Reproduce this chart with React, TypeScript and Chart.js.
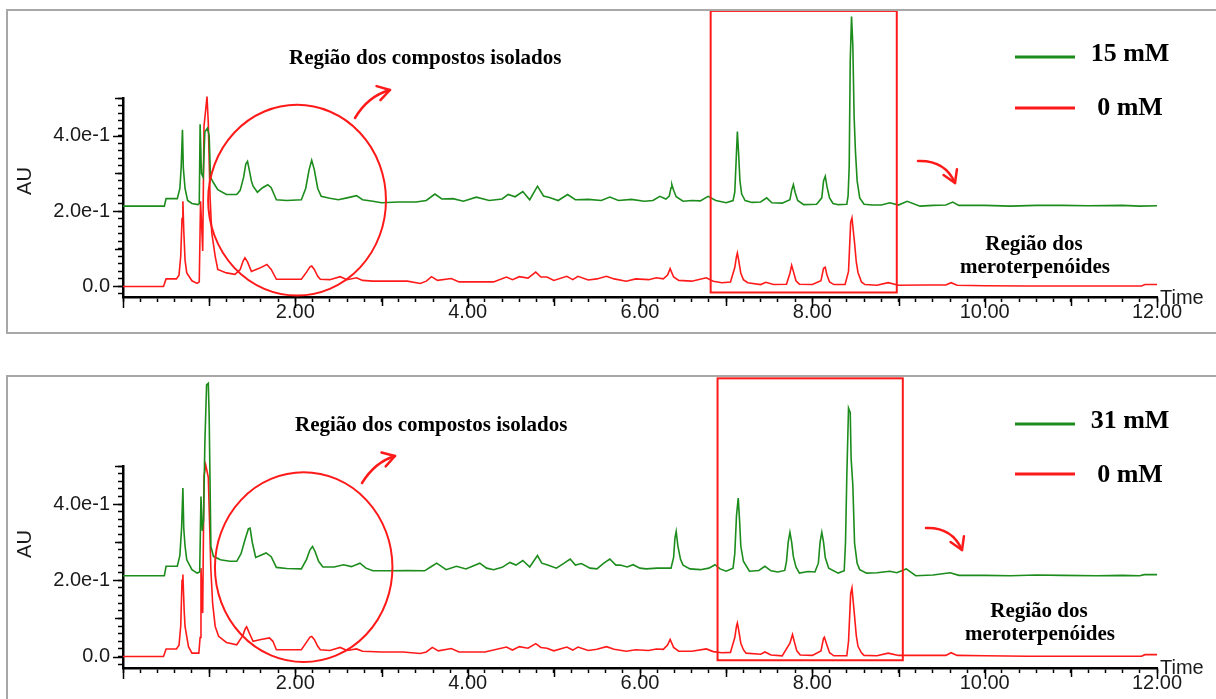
import React, { useEffect, useRef } from 'react';
import { Chart, registerables } from 'chart.js';

Chart.register(...registerables);

type P = [number, number];

// ---------- DATA (time in min, absorbance in AU) ----------
const topGreen15: P[] = [
  [0, 0.213], [0.48, 0.213], [0.5, 0.233], [0.63, 0.233], [0.66, 0.26], [0.675, 0.315], [0.69, 0.416], [0.7, 0.315],
  [0.72, 0.26], [0.75, 0.228], [0.8, 0.22], [0.87, 0.217], [0.885, 0.22], [0.895, 0.43], [0.91, 0.3], [0.93, 0.29],
  [0.95, 0.41], [0.98, 0.42], [1.0, 0.4], [1.015, 0.29], [1.05, 0.275], [1.1, 0.257], [1.2, 0.244], [1.32, 0.244],
  [1.36, 0.255], [1.4, 0.29], [1.425, 0.325], [1.445, 0.332], [1.465, 0.31], [1.49, 0.28], [1.51, 0.266], [1.56, 0.25],
  [1.62, 0.262], [1.68, 0.27], [1.72, 0.262], [1.78, 0.23], [1.9, 0.228], [2.07, 0.23], [2.12, 0.26], [2.16, 0.31],
  [2.19, 0.335], [2.22, 0.31], [2.26, 0.26], [2.3, 0.239], [2.4, 0.234],
  [2.5, 0.23], [2.6, 0.235], [2.71, 0.241], [2.78, 0.23], [2.9, 0.226], [3.0, 0.222], [3.2, 0.224], [3.4, 0.224],
  [3.52, 0.228], [3.62, 0.245], [3.7, 0.232], [3.83, 0.233], [3.95, 0.226], [4.1, 0.237], [4.25, 0.228], [4.4, 0.232],
  [4.47, 0.244], [4.55, 0.238], [4.64, 0.252], [4.72, 0.23], [4.81, 0.266], [4.88, 0.24], [4.95, 0.236], [5.05, 0.228],
  [5.16, 0.244], [5.25, 0.23], [5.4, 0.231], [5.55, 0.228], [5.65, 0.237], [5.75, 0.228], [5.9, 0.231], [6.05, 0.226],
  [6.15, 0.228], [6.23, 0.239], [6.3, 0.232], [6.34, 0.24], [6.36, 0.262], [6.37, 0.27], [6.39, 0.255], [6.42, 0.238],
  [6.5, 0.226], [6.6, 0.228],
  [6.7, 0.227], [6.79, 0.239], [6.88, 0.228], [7.0, 0.222], [7.08, 0.228], [7.1, 0.25], [7.115, 0.33], [7.13, 0.411],
  [7.145, 0.35], [7.16, 0.28], [7.18, 0.245], [7.22, 0.228], [7.3, 0.223], [7.4, 0.224], [7.47, 0.235], [7.53, 0.222],
  [7.65, 0.221], [7.74, 0.23], [7.76, 0.255], [7.78, 0.27], [7.8, 0.25], [7.83, 0.228], [7.9, 0.217], [8.05, 0.218],
  [8.11, 0.235], [8.13, 0.28], [8.15, 0.292], [8.17, 0.265], [8.2, 0.235], [8.24, 0.22], [8.3, 0.217], [8.4, 0.218],
  [8.415, 0.24], [8.428, 0.32], [8.44, 0.6], [8.455, 0.716], [8.47, 0.64], [8.485, 0.45], [8.5, 0.36], [8.52, 0.28],
  [8.55, 0.235], [8.6, 0.218], [8.7, 0.216], [8.8, 0.216], [8.9, 0.222],
  [9.0, 0.216], [9.1, 0.226], [9.25, 0.213], [9.4, 0.215], [9.55, 0.216], [9.63, 0.224], [9.7, 0.215], [10.0, 0.215],
  [10.3, 0.213], [10.6, 0.215], [10.9, 0.215], [11.2, 0.214], [11.6, 0.215], [11.8, 0.213], [12.0, 0.214],
];

const topRed0: P[] = [
  [0, 0.0], [0.47, 0.0], [0.5, 0.02], [0.62, 0.02], [0.65, 0.03], [0.67, 0.08], [0.685, 0.18], [0.695, 0.226],
  [0.705, 0.15], [0.72, 0.07], [0.74, 0.036], [0.8, 0.015], [0.86, 0.008], [0.885, 0.012], [0.9, 0.226], [0.915, 0.15],
  [0.925, 0.094], [0.94, 0.425], [0.96, 0.469], [0.975, 0.504], [0.99, 0.434], [1.01, 0.239], [1.03, 0.143], [1.07, 0.08],
  [1.1, 0.045], [1.2, 0.036], [1.3, 0.032], [1.36, 0.045], [1.395, 0.068], [1.415, 0.076], [1.445, 0.065], [1.49, 0.04],
  [1.58, 0.048], [1.67, 0.058], [1.72, 0.045], [1.78, 0.019], [1.9, 0.019], [2.07, 0.019], [2.13, 0.038], [2.17, 0.052],
  [2.19, 0.054], [2.22, 0.045], [2.26, 0.027], [2.29, 0.019], [2.4, 0.018], [2.52, 0.026], [2.6, 0.018], [2.71, 0.023],
  [2.78, 0.016], [2.9, 0.014], [3.1, 0.014],
  [3.3, 0.014], [3.45, 0.008], [3.52, 0.014], [3.58, 0.026], [3.65, 0.016], [3.81, 0.021], [3.9, 0.012], [4.1, 0.012],
  [4.3, 0.012], [4.45, 0.025], [4.52, 0.018], [4.6, 0.026], [4.7, 0.022], [4.79, 0.038], [4.85, 0.025], [4.92, 0.025],
  [5.0, 0.016], [5.15, 0.027], [5.22, 0.018], [5.28, 0.027], [5.4, 0.017], [5.5, 0.02], [5.61, 0.027], [5.7, 0.02],
  [5.84, 0.014], [5.95, 0.02], [6.1, 0.018], [6.19, 0.023], [6.27, 0.02], [6.32, 0.03], [6.35, 0.047], [6.39, 0.025],
  [6.45, 0.016], [6.6, 0.014], [6.77, 0.023], [6.85, 0.014], [6.95, 0.01], [7.05, 0.012], [7.1, 0.05], [7.12, 0.08],
  [7.13, 0.089], [7.145, 0.07], [7.17, 0.035], [7.2, 0.018], [7.25, 0.01], [7.4, 0.005], [7.46, 0.011], [7.55, 0.005],
  [7.7, 0.006], [7.74, 0.035], [7.76, 0.056], [7.78, 0.04], [7.81, 0.015], [7.85, 0.006], [8.0, 0.005], [8.1, 0.015],
  [8.13, 0.048], [8.15, 0.051], [8.17, 0.03], [8.2, 0.012], [8.25, 0.005], [8.38, 0.005], [8.42, 0.04], [8.445, 0.17],
  [8.46, 0.182], [8.49, 0.116], [8.51, 0.065], [8.53, 0.037], [8.57, 0.012], [8.61, 0.005],
  [8.75, 0.003], [8.88, 0.01], [9.0, 0.003], [9.3, 0.004], [9.55, 0.004], [9.61, 0.01], [9.68, 0.003], [10.0, 0.002],
  [10.5, 0.001], [11.0, 0.001], [11.5, 0.001], [11.82, 0.001], [11.86, 0.005], [12.0, 0.005],
];

const bottomGreen31: P[] = [
  [0, 0.212], [0.48, 0.212], [0.5, 0.237], [0.63, 0.237], [0.66, 0.265], [0.68, 0.337], [0.695, 0.442], [0.705, 0.337],
  [0.72, 0.29], [0.74, 0.254], [0.8, 0.228], [0.86, 0.219], [0.89, 0.222], [0.905, 0.42], [0.92, 0.33], [0.935, 0.36],
  [0.95, 0.56], [0.97, 0.713], [0.99, 0.717], [1.0, 0.63], [1.02, 0.289], [1.05, 0.263], [1.13, 0.254], [1.24, 0.25],
  [1.32, 0.25], [1.37, 0.27], [1.42, 0.31], [1.455, 0.335], [1.475, 0.337], [1.5, 0.3], [1.54, 0.26], [1.6, 0.266],
  [1.66, 0.272], [1.72, 0.262],
  [1.78, 0.234], [1.9, 0.231], [2.07, 0.23], [2.13, 0.255], [2.17, 0.28], [2.2, 0.289], [2.23, 0.275], [2.27, 0.25],
  [2.32, 0.235], [2.45, 0.235],
  [2.56, 0.241], [2.65, 0.236], [2.75, 0.245], [2.82, 0.232], [2.9, 0.225], [3.1, 0.225], [3.3, 0.226], [3.5, 0.225],
  [3.57, 0.235], [3.64, 0.245], [3.75, 0.228], [3.87, 0.237], [3.98, 0.23], [4.14, 0.245], [4.22, 0.232], [4.3, 0.228],
  [4.4, 0.234], [4.49, 0.247], [4.56, 0.24], [4.64, 0.252], [4.72, 0.235], [4.81, 0.265], [4.86, 0.245], [4.92, 0.241],
  [5.03, 0.232], [5.12, 0.245], [5.19, 0.256], [5.25, 0.24], [5.32, 0.244], [5.42, 0.232], [5.5, 0.23], [5.58, 0.245],
  [5.65, 0.256], [5.72, 0.24], [5.77, 0.24], [5.85, 0.235], [5.92, 0.241], [6.0, 0.232], [6.07, 0.23], [6.2, 0.232],
  [6.36, 0.232], [6.39, 0.26], [6.405, 0.31], [6.42, 0.328], [6.44, 0.29], [6.47, 0.255], [6.5, 0.24], [6.58, 0.23],
  [6.7, 0.228], [6.8, 0.232],
  [6.87, 0.241], [6.93, 0.23], [7.0, 0.224], [7.08, 0.232], [7.1, 0.27], [7.12, 0.37], [7.14, 0.416], [7.155, 0.36],
  [7.17, 0.29], [7.2, 0.25], [7.27, 0.224], [7.38, 0.226], [7.45, 0.237], [7.52, 0.225], [7.6, 0.222], [7.68, 0.226],
  [7.7, 0.25], [7.72, 0.3], [7.74, 0.326], [7.76, 0.3], [7.78, 0.262], [7.81, 0.235], [7.85, 0.219], [7.95, 0.223],
  [8.03, 0.222], [8.07, 0.245], [8.09, 0.3], [8.11, 0.326], [8.13, 0.3], [8.15, 0.26], [8.19, 0.232], [8.3, 0.219],
  [8.37, 0.225], [8.385, 0.3], [8.4, 0.472], [8.42, 0.652], [8.44, 0.64], [8.45, 0.52], [8.47, 0.45], [8.49, 0.298],
  [8.52, 0.245], [8.55, 0.228], [8.63, 0.219], [8.75, 0.22], [8.9, 0.224], [8.98, 0.22], [9.09, 0.23], [9.2, 0.212],
  [9.4, 0.214], [9.6, 0.22], [9.7, 0.213], [10.0, 0.213], [10.3, 0.212], [10.6, 0.214], [10.9, 0.213], [11.3, 0.212],
  [11.6, 0.213], [11.8, 0.212], [11.85, 0.215], [12.0, 0.215],
];

const bottomRed0: P[] = [
  [0, 0.0], [0.47, 0.0], [0.5, 0.02], [0.62, 0.02], [0.65, 0.03], [0.67, 0.08], [0.685, 0.2], [0.695, 0.215],
  [0.71, 0.12], [0.72, 0.079], [0.76, 0.026], [0.8, 0.009], [0.88, 0.009], [0.895, 0.05], [0.905, 0.232], [0.925, 0.114],
  [0.94, 0.472], [0.96, 0.503], [0.99, 0.47], [1.02, 0.228], [1.04, 0.14], [1.07, 0.079], [1.11, 0.053], [1.2, 0.037],
  [1.32, 0.031], [1.39, 0.055], [1.42, 0.074], [1.435, 0.078], [1.465, 0.062], [1.51, 0.04], [1.6, 0.045], [1.7, 0.049],
  [1.74, 0.04],
  [1.78, 0.018], [1.9, 0.018], [2.07, 0.018], [2.13, 0.038], [2.17, 0.051], [2.19, 0.053], [2.22, 0.045], [2.26, 0.027],
  [2.29, 0.018], [2.4, 0.016],
  [2.52, 0.024], [2.6, 0.016], [2.71, 0.02], [2.78, 0.014], [3.0, 0.012], [3.25, 0.012], [3.45, 0.008], [3.52, 0.012],
  [3.59, 0.024], [3.66, 0.015], [3.81, 0.021], [3.9, 0.012], [4.2, 0.012], [4.45, 0.025], [4.52, 0.017], [4.6, 0.026],
  [4.7, 0.022], [4.79, 0.034], [4.85, 0.024], [4.92, 0.022], [5.0, 0.015], [5.15, 0.025], [5.22, 0.017], [5.28, 0.025],
  [5.4, 0.016], [5.5, 0.019], [5.61, 0.026], [5.7, 0.019], [5.84, 0.014], [5.95, 0.018], [6.1, 0.016], [6.19, 0.02],
  [6.27, 0.019], [6.32, 0.03], [6.35, 0.045], [6.39, 0.024], [6.45, 0.014], [6.6, 0.014], [6.77, 0.02], [6.85, 0.013],
  [6.95, 0.01], [7.05, 0.011], [7.1, 0.05], [7.12, 0.08], [7.13, 0.088], [7.145, 0.07], [7.17, 0.035], [7.2, 0.018],
  [7.23, 0.009], [7.4, 0.006],
  [7.45, 0.012], [7.52, 0.004], [7.65, 0.002], [7.74, 0.035], [7.77, 0.058], [7.79, 0.04], [7.82, 0.015], [7.86, 0.004],
  [8.0, 0.003], [8.1, 0.015], [8.13, 0.048], [8.14, 0.051], [8.17, 0.03], [8.2, 0.01], [8.25, 0.002], [8.4, 0.002],
  [8.42, 0.04], [8.445, 0.165], [8.46, 0.18], [8.49, 0.106], [8.51, 0.055], [8.53, 0.027], [8.57, 0.01], [8.6, 0.003],
  [8.75, 0.002], [8.88, 0.009], [9.0, 0.003], [9.3, 0.003],
  [9.55, 0.003], [9.61, 0.01], [9.68, 0.003], [10.0, 0.002], [10.5, 0.001], [11.0, 0.001], [11.5, 0.001], [11.82, 0.001],
  [11.86, 0.005], [12.0, 0.005],
];

const xLabelValues = [2, 4, 6, 8, 10, 12];
const yLabelValues = [0, 0.2, 0.4];
const yLabelTexts = ['0.0', '2.0e-1', '4.0e-1'];

const seriesNames = { top: ['15 mM', '0 mM'], bottom: ['31 mM', '0 mM'] };
const titleText = 'Região dos compostos isolados';
const regionLines = ['Região dos', 'meroterpenóides'];

// ---------- STYLE ----------
const GREEN = '#1c8c1c';
const RED = '#ff1a1a';
const AXIS_FONT = '"Liberation Sans", Arial, sans-serif';
const SERIF = '"Liberation Serif", "Times New Roman", serif';

interface PanelSpec {
  green: P[];
  red: P[];
  names: string[];
  yMin: number;
  canvasH: number;
  pad: { top: number; bottom: number };
  circle: { cx: number; cy: number; rx: number; ry: number };
  rect: { x1: number; x2: number; y1: number; y2: number };
  titleX: number; titleY: number;
  regionX: number; regionY: number;
  legendY: [number, number];
  legendTextY: [number, number];
  arrows: { p0: [number, number]; c: [number, number]; p1: [number, number] }[];
  auY: number;
  timeY: number;
}

const panels: PanelSpec[] = [
  {
    green: topGreen15, red: topRed0, names: seriesNames.top,
    yMin: -0.028, canvasH: 321, pad: { top: 87, bottom: 0 },
    circle: { cx: 2.02, cy: 0.229, rx: 1.032, ry: 0.253 },
    rect: { x1: 6.82, x2: 8.98, y1: -0.016, y2: 0.731 },
    titleX: 281, titleY: 53,
    regionX: 1026, regionY: 239,
    legendY: [46, 97], legendTextY: [50, 104],
    arrows: [
      { p0: [347, 107], c: [360, 85], p1: [382, 79] },
      { p0: [910, 150], c: [937, 149], p1: [947, 172] },
    ],
    auY: 170, timeY: 287,
  },
  {
    green: bottomGreen31, red: bottomRed0, names: seriesNames.bottom,
    yMin: -0.03, canvasH: 330, pad: { top: 89, bottom: 4 },
    circle: { cx: 2.097, cy: 0.2345, rx: 1.03, ry: 0.249 },
    rect: { x1: 6.9, x2: 9.05, y1: -0.0097, y2: 0.73 },
    titleX: 287, titleY: 54,
    regionX: 1031, regionY: 240,
    legendY: [47, 97], legendTextY: [51, 105],
    arrows: [
      { p0: [354, 106], c: [367, 85], p1: [387, 79] },
      { p0: [918, 151], c: [944, 150], p1: [954, 173] },
    ],
    auY: 167, timeY: 291,
  },
];

function drawArrow(ctx: CanvasRenderingContext2D, a: PanelSpec['arrows'][number]) {
  ctx.beginPath();
  ctx.moveTo(a.p0[0], a.p0[1]);
  ctx.quadraticCurveTo(a.c[0], a.c[1], a.p1[0], a.p1[1]);
  ctx.stroke();
  const ang = Math.atan2(a.p1[1] - a.c[1], a.p1[0] - a.c[0]);
  const L = 14;
  ctx.beginPath();
  ctx.moveTo(a.p1[0] + L * Math.cos(ang + Math.PI - 0.55), a.p1[1] + L * Math.sin(ang + Math.PI - 0.55));
  ctx.lineTo(a.p1[0], a.p1[1]);
  ctx.lineTo(a.p1[0] + L * Math.cos(ang + Math.PI + 0.55), a.p1[1] + L * Math.sin(ang + Math.PI + 0.55));
  ctx.stroke();
}

function makeConfig(spec: PanelSpec): any {
  const decor = {
    id: 'decor',
    afterDraw(chart: any) {
      const ctx: CanvasRenderingContext2D = chart.ctx;
      const xs = chart.scales.x;
      const ys = chart.scales.y;
      const ca = chart.chartArea;
      ctx.save();
      // longer major / mid ticks
      ctx.strokeStyle = '#000';
      ctx.lineWidth = 1.5;
      xs.ticks.forEach((t: any) => {
        const k = Math.round(t.value * 10);
        if (k % 10 !== 0) return;
        const len = k % 20 === 0 ? 11 : 9;
        const px = Math.round(xs.getPixelForValue(t.value)) + 0.5;
        ctx.beginPath();
        ctx.moveTo(px, ca.bottom);
        ctx.lineTo(px, ca.bottom + len);
        ctx.stroke();
      });
      ys.ticks.forEach((t: any) => {
        const k = Math.round(t.value * 100);
        if (k % 10 !== 0) return;
        const len = k % 20 === 0 ? 10 : 8;
        const py = Math.round(ys.getPixelForValue(t.value)) + 0.5;
        ctx.beginPath();
        ctx.moveTo(ca.left, py);
        ctx.lineTo(ca.left - len, py);
        ctx.stroke();
      });
      // axis titles
      ctx.fillStyle = '#1a1a1a';
      ctx.font = `20px ${AXIS_FONT}`;
      ctx.textBaseline = 'middle';
      ctx.textAlign = 'left';
      ctx.fillText('Time', ca.right + 3, spec.timeY);
      ctx.save();
      ctx.translate(17, spec.auY);
      ctx.rotate(-Math.PI / 2);
      ctx.textAlign = 'center';
      ctx.fillText('AU', 0, 0);
      ctx.restore();

      // annotations
      ctx.strokeStyle = RED;
      ctx.lineWidth = 2;
      const c = spec.circle;
      const cx = xs.getPixelForValue(c.cx);
      const cy = ys.getPixelForValue(c.cy);
      const rx = xs.getPixelForValue(c.cx + c.rx) - cx;
      const ry = cy - ys.getPixelForValue(c.cy + c.ry);
      ctx.beginPath();
      ctx.ellipse(cx, cy, rx, ry, 0, 0, Math.PI * 2);
      ctx.stroke();
      const r = spec.rect;
      const x1 = xs.getPixelForValue(r.x1);
      const x2 = xs.getPixelForValue(r.x2);
      const y1 = ys.getPixelForValue(r.y1);
      const y2 = ys.getPixelForValue(r.y2);
      ctx.strokeRect(x1, y2, x2 - x1, y1 - y2);

      ctx.lineWidth = 2.5;
      ctx.lineCap = 'round';
      ctx.lineJoin = 'round';
      spec.arrows.forEach((a) => drawArrow(ctx, a));

      // texts
      ctx.fillStyle = '#000';
      ctx.textBaseline = 'alphabetic';
      ctx.font = `bold 21px ${SERIF}`;
      ctx.textAlign = 'left';
      ctx.fillText(titleText, spec.titleX, spec.titleY);
      ctx.textAlign = 'center';
      ctx.fillText(regionLines[0], spec.regionX, spec.regionY);
      ctx.fillText(regionLines[1], spec.regionX + 1, spec.regionY + 23);

      // legend
      const cols = [GREEN, RED];
      ctx.lineCap = 'butt';
      ctx.lineWidth = 3;
      ctx.font = `bold 26px ${SERIF}`;
      ctx.textAlign = 'center';
      for (let i = 0; i < 2; i++) {
        ctx.strokeStyle = cols[i];
        ctx.beginPath();
        ctx.moveTo(1007, spec.legendY[i]);
        ctx.lineTo(1067, spec.legendY[i]);
        ctx.stroke();
        ctx.fillStyle = '#000';
        ctx.fillText(spec.names[i], 1122, spec.legendTextY[i]);
      }
      ctx.restore();
    },
  };

  const toXY = (arr: P[]) => arr.map(([x, y]) => ({ x, y }));

  return {
    type: 'line',
    data: {
      datasets: [
        { label: spec.names[0], data: toXY(spec.green), borderColor: GREEN, borderWidth: 1.6, pointRadius: 0, tension: 0, clip: false },
        { label: spec.names[1], data: toXY(spec.red), borderColor: RED, borderWidth: 1.6, pointRadius: 0, tension: 0, clip: false },
      ],
    },
    options: {
      animation: false,
      responsive: false,
      devicePixelRatio: 1,
      layout: { padding: { left: 0, right: 59, top: spec.pad.top, bottom: spec.pad.bottom } },
      plugins: { legend: { display: false }, tooltip: { enabled: false } },
      scales: {
        x: {
          type: 'linear',
          min: 0,
          max: 12,
          afterFit: (s: any) => { s.height = 35; },
          grid: { drawOnChartArea: false, drawTicks: true, tickLength: 5, tickColor: '#000', tickWidth: 1.5 },
          border: { display: true, color: '#000', width: 2.5 },
          ticks: {
            stepSize: 0.2,
            autoSkip: false,
            maxRotation: 0,
            minRotation: 0,
            includeBounds: false,
            padding: -2,
            color: '#1a1a1a',
            font: { family: AXIS_FONT, size: 20 },
            callback: (v: number) => {
              const hit = xLabelValues.find((lv) => Math.abs(lv - v) < 1e-6);
              return hit !== undefined ? hit.toFixed(2) : '';
            },
          },
        },
        y: {
          type: 'linear',
          min: spec.yMin,
          max: 0.5,
          afterFit: (s: any) => { s.width = 115; },
          grid: { drawOnChartArea: false, drawTicks: true, tickLength: 5, tickColor: '#000', tickWidth: 1.5 },
          border: { display: true, color: '#000', width: 2.5 },
          ticks: {
            stepSize: 0.02,
            autoSkip: false,
            includeBounds: false,
            padding: 8,
            color: '#1a1a1a',
            font: { family: AXIS_FONT, size: 20 },
            callback: (v: number) => {
              const i = yLabelValues.findIndex((lv) => Math.abs(lv - v) < 1e-6);
              return i >= 0 ? yLabelTexts[i] : '';
            },
          },
        },
      },
    },
    plugins: [decor],
  };
}

function Panel({ spec, top, height }: { spec: PanelSpec; top: number; height: number }) {
  const ref = useRef<HTMLCanvasElement | null>(null);
  useEffect(() => {
    if (!ref.current) return;
    const chart = new Chart(ref.current, makeConfig(spec));
    return () => chart.destroy();
  }, [spec]);
  return (
    <div
      style={{
        position: 'absolute', left: 6, top, width: 1280, height,
        border: '2px solid #a8a8a8', borderRight: 'none', boxSizing: 'border-box', background: '#fff',
      }}
    >
      <canvas ref={ref} width={1208} height={spec.canvasH} style={{ position: 'absolute', left: 0, top: 0, display: 'block' }} />
    </div>
  );
}

export default function App() {
  return (
    <div style={{ position: 'fixed', left: 0, top: 0, width: 1216, height: 699, overflow: 'hidden', background: '#fff' }}>
      <Panel spec={panels[0]} top={9} height={325} />
      <Panel spec={panels[1]} top={375} height={420} />
    </div>
  );
}
